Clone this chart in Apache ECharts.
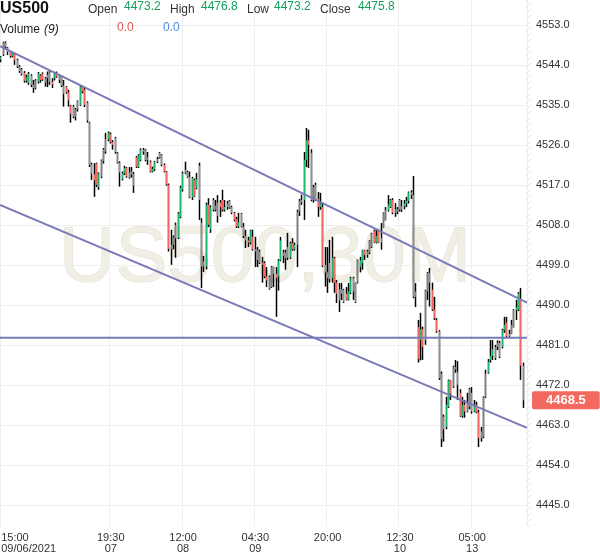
<!DOCTYPE html>
<html>
<head>
<meta charset="utf-8">
<title>US500,30M</title>
<script src="https://cdn.jsdelivr.net/npm/echarts@6/dist/echarts.min.js"></script>
<style>
  html, body { margin: 0; padding: 0; background: #fff; }
  #chart { width: 600px; height: 558px; }
</style>
</head>
<body>
<div id="chart"></div>
<script>
// sessions: [date, first candle, candle count] (30 minute candles)
const sessions = [
  ['09/06/2021', '15:00', 10],
  ['09/07/2021', '01:00', 46],
  ['09/08/2021', '01:00', 46],
  ['09/09/2021', '01:00', 46],
  ['09/10/2021', '01:00', 46],
  ['09/13/2021', '01:00', 32]
]

const xTickLabels = [
  '09/06/2021 15:00', '09/07/2021 19:30', '09/08/2021 12:00', '09/09/2021 04:30',
  '09/09/2021 20:00', '09/10/2021 12:30', '09/13/2021 05:00'
]

const yTicks = [4445, 4454, 4463, 4472, 4481, 4490, 4499, 4508, 4517, 4526, 4535, 4544, 4553]

// [open, close, low, high]
const ohlc = [
  [4545.2, 4545.8, 4544.6, 4546.0], [4546.3, 4549.0, 4546.0, 4549.2], [4549.0, 4548.1, 4547.8, 4549.3],
  [4547.8, 4546.9, 4546.2, 4548.0], [4546.9, 4546.0, 4545.6, 4547.1], [4546.0, 4546.7, 4545.7, 4546.9],
  [4546.4, 4545.0, 4544.0, 4546.6], [4545.1, 4543.6, 4543.3, 4545.4], [4543.6, 4542.6, 4542.2, 4544.0],
  [4543.0, 4542.0, 4541.6, 4543.3], [4542.2, 4540.4, 4540.0, 4542.6], [4540.4, 4541.2, 4540.0, 4541.8],
  [4539.9, 4542.0, 4539.5, 4542.4], [4541.6, 4539.5, 4539.0, 4541.9], [4539.5, 4538.8, 4537.7, 4540.6],
  [4538.8, 4540.5, 4538.5, 4540.8], [4540.2, 4542.1, 4539.8, 4542.4], [4541.6, 4540.6, 4540.0, 4541.9],
  [4542.0, 4540.7, 4540.4, 4542.3], [4540.0, 4541.0, 4539.1, 4541.3], [4541.0, 4541.8, 4539.0, 4542.5],
  [4542.3, 4540.2, 4539.5, 4542.6], [4540.2, 4539.6, 4538.8, 4541.0], [4541.0, 4542.1, 4540.5, 4542.3],
  [4542.2, 4541.4, 4541.1, 4542.5], [4541.4, 4540.6, 4539.9, 4541.7], [4541.3, 4539.3, 4539.0, 4541.6],
  [4539.3, 4537.5, 4534.6, 4540.6], [4539.0, 4537.8, 4537.5, 4539.2], [4537.8, 4536.0, 4534.6, 4538.4],
  [4534.8, 4533.0, 4531.0, 4535.0], [4534.6, 4532.3, 4532.0, 4535.0], [4532.3, 4534.0, 4531.5, 4534.3],
  [4534.0, 4535.8, 4533.5, 4536.0], [4535.0, 4539.0, 4534.8, 4539.4], [4539.0, 4538.0, 4537.6, 4539.2],
  [4538.4, 4535.0, 4534.5, 4538.8], [4535.5, 4531.5, 4531.0, 4535.8], [4531.0, 4521.5, 4521.0, 4531.2],
  [4521.6, 4519.5, 4518.1, 4522.0], [4519.4, 4518.0, 4514.3, 4521.9], [4521.8, 4517.0, 4516.5, 4522.0],
  [4516.5, 4519.5, 4515.9, 4519.8], [4518.8, 4522.5, 4518.5, 4522.7], [4522.3, 4525.0, 4521.8, 4525.3],
  [4524.5, 4527.3, 4524.0, 4528.7], [4527.2, 4528.7, 4526.8, 4529.0], [4528.4, 4526.6, 4526.3, 4528.8],
  [4526.6, 4526.0, 4524.9, 4527.1], [4527.5, 4524.4, 4524.0, 4527.8], [4524.2, 4522.0, 4521.8, 4524.4],
  [4522.0, 4519.8, 4516.6, 4522.3], [4518.3, 4519.6, 4518.0, 4520.0], [4519.6, 4520.8, 4519.2, 4521.3],
  [4520.8, 4518.9, 4518.6, 4521.0], [4518.6, 4519.8, 4518.4, 4521.0], [4520.0, 4519.3, 4518.6, 4521.0],
  [4516.8, 4519.5, 4515.2, 4519.9], [4523.2, 4521.1, 4520.8, 4523.5], [4521.0, 4523.6, 4520.8, 4523.9],
  [4522.6, 4524.9, 4522.3, 4525.2], [4524.9, 4524.5, 4523.8, 4525.3], [4524.9, 4522.6, 4522.3, 4525.1],
  [4522.6, 4523.2, 4521.5, 4524.4], [4522.2, 4520.0, 4519.8, 4522.5], [4520.0, 4520.6, 4519.8, 4521.1],
  [4520.4, 4522.2, 4520.1, 4522.4], [4522.2, 4522.8, 4521.9, 4523.3], [4524.2, 4523.1, 4522.9, 4524.4],
  [4523.7, 4521.5, 4521.2, 4523.9], [4521.5, 4520.0, 4519.8, 4521.8], [4519.9, 4517.1, 4516.8, 4520.1],
  [4517.0, 4502.6, 4502.0, 4517.3], [4502.6, 4503.5, 4499.0, 4506.9], [4503.5, 4505.2, 4502.5, 4505.6],
  [4505.0, 4508.0, 4500.6, 4508.5], [4505.1, 4510.6, 4504.8, 4510.9], [4509.8, 4516.4, 4509.5, 4516.8],
  [4515.9, 4519.6, 4515.5, 4520.0], [4519.6, 4520.4, 4519.4, 4522.2], [4519.9, 4518.8, 4518.6, 4520.2],
  [4518.8, 4514.2, 4514.0, 4520.0], [4514.2, 4518.5, 4513.6, 4518.8], [4518.1, 4514.5, 4514.3, 4518.4],
  [4516.3, 4518.3, 4516.0, 4519.7], [4521.3, 4513.6, 4509.1, 4522.0], [4508.5, 4498.6, 4493.8, 4509.5],
  [4498.6, 4499.8, 4497.4, 4501.0], [4498.6, 4512.5, 4498.0, 4513.0], [4512.5, 4508.0, 4507.5, 4514.0],
  [4507.0, 4512.0, 4506.2, 4512.4], [4513.6, 4511.4, 4511.0, 4514.0], [4511.4, 4512.3, 4511.0, 4513.6],
  [4510.0, 4513.0, 4508.5, 4514.7], [4513.0, 4512.0, 4509.8, 4513.6], [4513.6, 4511.4, 4511.0, 4515.9],
  [4511.4, 4512.0, 4511.0, 4513.6], [4512.0, 4512.8, 4511.4, 4513.4], [4513.4, 4511.9, 4511.6, 4513.6],
  [4512.0, 4510.7, 4510.4, 4512.3], [4510.7, 4509.1, 4508.8, 4510.9], [4509.3, 4507.6, 4507.3, 4509.8],
  [4507.6, 4508.6, 4507.3, 4510.7], [4510.5, 4507.6, 4507.4, 4510.7], [4507.6, 4505.5, 4505.0, 4508.4],
  [4505.5, 4504.5, 4502.8, 4506.9], [4504.5, 4504.0, 4503.0, 4505.3], [4504.0, 4506.7, 4503.6, 4506.9],
  [4505.3, 4502.5, 4502.2, 4506.9], [4502.5, 4502.0, 4498.5, 4505.3], [4502.4, 4500.1, 4498.5, 4503.0],
  [4502.0, 4499.5, 4499.2, 4502.4], [4499.5, 4499.0, 4495.0, 4500.8], [4499.4, 4496.4, 4496.0, 4499.8],
  [4496.4, 4495.5, 4494.0, 4498.5], [4493.6, 4496.3, 4493.4, 4496.6], [4494.0, 4498.5, 4493.8, 4498.7],
  [4498.5, 4497.0, 4494.0, 4498.6], [4497.0, 4496.0, 4487.3, 4498.5], [4496.3, 4500.0, 4493.2, 4500.3],
  [4500.0, 4504.5, 4499.8, 4505.3], [4501.0, 4501.8, 4499.4, 4502.4], [4501.8, 4500.5, 4497.9, 4502.4],
  [4503.0, 4500.6, 4500.1, 4506.2], [4500.6, 4503.9, 4500.3, 4504.2], [4503.9, 4502.5, 4502.2, 4505.0],
  [4502.5, 4503.5, 4502.2, 4504.0], [4503.5, 4511.0, 4498.5, 4511.4], [4511.0, 4513.4, 4510.0, 4513.8],
  [4513.0, 4513.6, 4512.5, 4514.8], [4513.6, 4522.6, 4509.1, 4524.4], [4522.6, 4527.0, 4521.0, 4529.8],
  [4527.0, 4526.0, 4520.8, 4529.4], [4524.2, 4513.6, 4513.3, 4525.0], [4513.6, 4516.5, 4513.0, 4517.0],
  [4517.0, 4513.8, 4513.4, 4517.5], [4513.8, 4512.0, 4509.8, 4515.4], [4512.0, 4512.8, 4511.4, 4515.2],
  [4512.0, 4498.8, 4498.5, 4513.0], [4499.0, 4497.3, 4494.1, 4503.0], [4497.3, 4496.0, 4492.7, 4503.0],
  [4499.4, 4495.8, 4495.0, 4504.6], [4496.0, 4500.5, 4495.0, 4505.3], [4500.5, 4495.0, 4492.7, 4500.8],
  [4495.0, 4492.5, 4490.4, 4495.6], [4491.0, 4493.5, 4488.4, 4494.9], [4493.5, 4492.5, 4491.1, 4494.9],
  [4493.4, 4490.6, 4490.4, 4493.6], [4492.5, 4491.2, 4491.0, 4494.0], [4491.2, 4493.0, 4491.0, 4494.9],
  [4492.7, 4496.0, 4492.4, 4496.3], [4496.0, 4493.0, 4491.1, 4496.3], [4494.9, 4490.6, 4490.4, 4495.0],
  [4495.0, 4500.0, 4494.8, 4500.2], [4498.5, 4500.0, 4497.3, 4500.8], [4499.4, 4502.3, 4497.9, 4502.4],
  [4502.3, 4501.2, 4500.1, 4502.4], [4501.2, 4502.0, 4500.6, 4502.4], [4501.7, 4504.5, 4501.4, 4504.6],
  [4503.0, 4506.0, 4502.8, 4506.2], [4506.6, 4504.0, 4503.9, 4506.9], [4504.0, 4505.5, 4503.8, 4506.9],
  [4506.6, 4504.0, 4503.9, 4506.9], [4504.0, 4505.0, 4502.4, 4508.4], [4507.5, 4510.6, 4507.4, 4510.8],
  [4509.1, 4511.3, 4509.0, 4512.0], [4511.3, 4512.6, 4511.0, 4514.7], [4512.0, 4513.6, 4511.8, 4513.8],
  [4513.6, 4510.7, 4510.4, 4514.0], [4510.7, 4511.5, 4509.8, 4512.9], [4511.5, 4511.0, 4510.4, 4512.0],
  [4513.6, 4511.4, 4511.0, 4513.8], [4511.4, 4512.2, 4510.9, 4513.6], [4512.2, 4512.8, 4511.5, 4513.6],
  [4512.8, 4513.4, 4512.0, 4514.3], [4513.4, 4515.3, 4512.8, 4515.5], [4515.3, 4514.7, 4513.8, 4515.8],
  [4514.7, 4491.8, 4491.5, 4519.0], [4491.8, 4493.0, 4489.5, 4494.9], [4485.0, 4477.8, 4477.0, 4486.6],
  [4482.0, 4484.5, 4477.5, 4488.2], [4484.5, 4480.5, 4477.6, 4485.1], [4482.1, 4493.2, 4481.0, 4493.4],
  [4493.0, 4497.2, 4491.1, 4497.4], [4497.2, 4495.0, 4489.6, 4498.3], [4493.4, 4488.9, 4488.6, 4495.0],
  [4488.9, 4487.0, 4486.6, 4491.8], [4486.6, 4484.0, 4483.7, 4487.0], [4484.0, 4473.5, 4473.1, 4484.3],
  [4474.5, 4459.8, 4458.0, 4475.0], [4464.8, 4462.0, 4459.2, 4465.3], [4462.5, 4467.5, 4462.0, 4469.3],
  [4467.0, 4473.0, 4466.8, 4473.2], [4473.0, 4470.0, 4468.6, 4473.1], [4471.6, 4476.0, 4471.3, 4476.3],
  [4476.0, 4475.5, 4474.7, 4477.6], [4475.0, 4472.0, 4468.6, 4477.3], [4470.2, 4465.0, 4464.8, 4471.0],
  [4465.0, 4467.5, 4464.6, 4469.3], [4467.5, 4466.0, 4464.6, 4468.6], [4466.0, 4467.8, 4465.8, 4470.2],
  [4467.0, 4471.0, 4466.5, 4471.3], [4470.2, 4466.0, 4465.5, 4471.5], [4466.0, 4467.5, 4465.8, 4468.6],
  [4467.5, 4465.8, 4465.6, 4468.2], [4465.8, 4460.0, 4458.0, 4466.4], [4460.0, 4461.5, 4459.2, 4462.5],
  [4460.3, 4469.2, 4460.0, 4469.4], [4469.2, 4474.5, 4469.0, 4475.4], [4474.7, 4477.2, 4474.5, 4477.8],
  [4477.5, 4478.5, 4477.0, 4482.1], [4478.5, 4480.0, 4477.6, 4482.1], [4478.0, 4480.5, 4477.6, 4481.0],
  [4480.5, 4481.5, 4479.8, 4482.0], [4481.4, 4478.3, 4478.0, 4481.9], [4480.5, 4484.3, 4480.2, 4484.6],
  [4484.3, 4485.5, 4483.7, 4487.3], [4486.0, 4483.0, 4482.7, 4487.3], [4483.0, 4483.5, 4482.8, 4484.4],
  [4483.5, 4485.5, 4483.4, 4486.6], [4485.0, 4488.8, 4484.9, 4489.0], [4488.8, 4489.5, 4486.6, 4491.1],
  [4488.9, 4492.6, 4488.6, 4492.9], [4491.1, 4476.3, 4473.1, 4493.8], [4476.3, 4468.5, 4466.8, 4477.0]
]

// trend lines: value at left edge, value at right edge of the plot
const channelTop = [4548.2, 4490.5]
const channelBottom = [4512.5, 4462.3]
const levelLine = [4482.6, 4482.6]

const quoteNames = ['Open', 'High', 'Low', 'Close']
const quoteValues = [4473.2, 4476.8, 4473.2, 4475.8]
const volumeValues = [0.0, 0.0]

const UP = '#1fb46e'
const DOWN = '#f4695f'
const TREND = '#7a7ab8'
const FONT = '"Liberation Sans", Arial, sans-serif'

function pad(n) {
  return n < 10 ? '0' + n : '' + n
}

const categories = []
sessions.forEach(function (s) {
  const parts = s[1].split(':')
  const start = parseInt(parts[0]) * 60 + parseInt(parts[1])
  for (let k = 0; k < s[2]; k++) {
    const t = start + k * 30
    categories.push(s[0] + ' ' + pad(Math.floor(t / 60)) + ':' + pad(t % 60))
  }
})
const N = categories.length

function isTick(index, value) {
  return xTickLabels.indexOf(value) >= 0
}

function trendData(pair) {
  return [[-0.5, pair[0]], [N - 0.5, pair[1]]]
}

// hatch for the price scale strip
const hatch = document.createElement('canvas')
hatch.width = 6
hatch.height = 6
const hctx = hatch.getContext('2d')
hctx.strokeStyle = '#e4e4e4'
hctx.lineWidth = 1
hctx.beginPath()
hctx.moveTo(0, 6)
hctx.lineTo(6, 0)
hctx.stroke()

const graphics = [
  {
    type: 'text', x: 265, y: 259, z: 0, silent: true,
    style: {
      text: 'US500,30M', font: '78px ' + FONT, fill: '#f1eee6', stroke: '#e3decd', lineWidth: 1,
      align: 'center', verticalAlign: 'middle'
    }
  },
  {
    type: 'rect', z: 1, silent: true,
    shape: { x: 526, y: 0, width: 5, height: 527 },
    style: { fill: { image: hatch, repeat: 'repeat' } }
  },
  {
    type: 'text', x: 0, y: 1, z: 10,
    style: { text: 'US500', font: 'bold 16px ' + FONT, fill: '#111', verticalAlign: 'top' }
  },
  {
    type: 'text', x: 0, y: 24, z: 10,
    style: { text: 'Volume', font: '12px ' + FONT, fill: '#222', verticalAlign: 'top' }
  },
  {
    type: 'text', x: 44, y: 24, z: 10,
    style: { text: '(9)', font: 'italic 12px ' + FONT, fill: '#222', verticalAlign: 'top' }
  },
  {
    type: 'text', x: 117, y: 22, z: 10,
    style: { text: volumeValues[0].toFixed(1), font: '12px ' + FONT, fill: '#e05555', verticalAlign: 'top' }
  },
  {
    type: 'text', x: 163, y: 22, z: 10,
    style: { text: volumeValues[1].toFixed(1), font: '12px ' + FONT, fill: '#4f8be6', verticalAlign: 'top' }
  }
]
const nameX = [88, 170, 247, 320]
const valueX = [124, 201, 274, 358]
quoteNames.forEach(function (name, i) {
  graphics.push({
    type: 'text', x: nameX[i], y: 4, z: 10,
    style: { text: name, font: '12px ' + FONT, fill: '#333', verticalAlign: 'top' }
  })
  graphics.push({
    type: 'text', x: valueX[i], y: 1, z: 10,
    style: { text: quoteValues[i].toFixed(1), font: '12px ' + FONT, fill: '#14a05a', verticalAlign: 'top' }
  })
})

const chart = echarts.init(document.getElementById('chart'))

const option = {
  animation: false,
  backgroundColor: '#fff',
  textStyle: { fontFamily: FONT },
  grid: { left: 0, right: 73, top: 0, bottom: 31, containLabel: false, outerBoundsMode: 'none' },
  xAxis: [
    {
      type: 'category',
      data: categories.map(function (c, i) {
        return i === 0 ? { value: c, textStyle: { align: 'left' } } : c
      }),
      boundaryGap: true,
      axisLine: { show: false },
      axisTick: { show: false },
      axisLabel: {
        interval: isTick,
        margin: 5,
        color: '#333',
        fontSize: 11,
        lineHeight: 11,
        fontFamily: FONT,
        formatter: function (value) {
          const i = xTickLabels.indexOf(value)
          if (i < 0) return ''
          const parts = value.split(' ')
          if (i === 0) return parts[1] + '\n' + parts[0]
          const prevDay = xTickLabels[i - 1].split(' ')[0]
          return prevDay === parts[0] ? parts[1] : parts[1] + '\n' + parts[0].slice(3, 5)
        }
      },
      splitLine: { show: true, interval: isTick, lineStyle: { color: '#efefef', width: 1 } }
    },
    {
      type: 'value', min: -0.5, max: N - 0.5, show: false
    }
  ],
  yAxis: {
    type: 'value',
    position: 'right',
    min: 4440,
    max: 4558.6,
    axisLine: { show: false },
    axisTick: { show: false, customValues: yTicks },
    axisLabel: {
      customValues: yTicks,
      margin: 9,
      color: '#333',
      fontSize: 11,
      fontFamily: FONT,
      formatter: function (v) { return v.toFixed(1) }
    },
    splitLine: { show: true, lineStyle: { color: '#efefef', width: 1 } }
  },
  graphic: graphics,
  series: [
    {
      name: 'wick',
      type: 'candlestick',
      silent: true,
      barWidth: 0.2,
      data: ohlc,
      itemStyle: {
        color: '#000', color0: '#000', borderColor: '#000', borderColor0: '#000', borderWidth: 1.5
      }
    },
    {
      name: 'body',
      type: 'candlestick',
      silent: true,
      barWidth: 1,
      data: ohlc.map(function (r) {
        return [r[0], r[1], Math.min(r[0], r[1]), Math.max(r[0], r[1])]
      }),
      itemStyle: {
        color: UP, color0: DOWN, borderColor: UP, borderColor0: DOWN, borderWidth: 1
      },
      markLine: {
        symbol: 'none',
        silent: true,
        animation: false,
        lineStyle: { color: 'rgba(0,0,0,0)', width: 1, type: 'solid' },
        label: {
          show: true,
          position: 'end',
          distance: 5,
          formatter: function (p) { return p.value.toFixed(1) },
          backgroundColor: DOWN,
          color: '#fff',
          fontWeight: 'bold',
          fontSize: 13,
          fontFamily: FONT,
          padding: [3, 14, 2, 14],
          borderRadius: 2
        },
        data: [{ yAxis: ohlc[ohlc.length - 1][1] }]
      }
    },
    {
      name: 'channel top', type: 'line', xAxisIndex: 1, symbol: 'none', silent: true,
      data: trendData(channelTop), lineStyle: { color: TREND, width: 2 }, z: 3
    },
    {
      name: 'channel bottom', type: 'line', xAxisIndex: 1, symbol: 'none', silent: true,
      data: trendData(channelBottom), lineStyle: { color: TREND, width: 2 }, z: 3
    },
    {
      name: 'level', type: 'line', xAxisIndex: 1, symbol: 'none', silent: true,
      data: trendData(levelLine), lineStyle: { color: TREND, width: 2 }, z: 3
    }
  ]
}

chart.setOption(option)
</script>
</body>
</html>
